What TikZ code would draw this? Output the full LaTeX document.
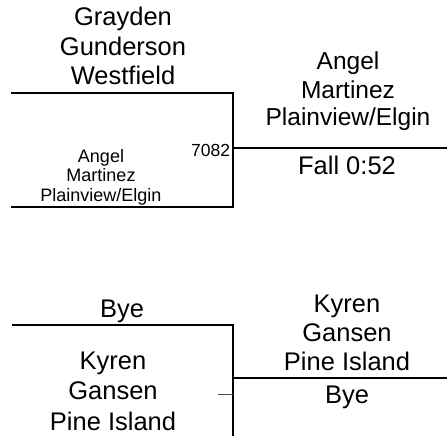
\documentclass[tikz,border=0pt]{standalone}
\usepackage{fontspec}
\setmainfont{Liberation Sans}
\begin{document}
\begin{tikzpicture}[x=1pt,y=-1pt,line width=2pt,
  big/.style={font=\fontsize{25.5}{30}\selectfont,align=center,inner sep=0pt,anchor=base},
  mid/.style={font=\fontsize{24.5}{28}\selectfont,align=center,inner sep=0pt,anchor=base},
  small/.style={font=\fontsize{18}{19.5}\selectfont,align=center,inner sep=0pt,anchor=base},
  seed/.style={font=\fontsize{17.5}{19}\selectfont,inner sep=0pt,anchor=base east},
  bracket/.style={draw=black,line width=2.2pt},
  tick/.style={draw=black!70,line width=1pt}]
\useasboundingbox (0,0) rectangle (448,436);
% top bracket
\coordinate (ta) at (11,93);
\coordinate (tb) at (233,93);
\coordinate (tc) at (233,207);
\coordinate (td) at (11,207);
\coordinate (tm) at (233,148);
\coordinate (te) at (447,148);
\draw[bracket] (ta) -- (tb) -- (tc) -- (td);
\draw[bracket] (tm) -- (te);
% bottom bracket
\coordinate (ba) at (12,325);
\coordinate (bb) at (233,325);
\coordinate (bc) at (233,436);
\coordinate (bm) at (233,378);
\coordinate (be) at (447,378);
\coordinate (bt) at (218,394);
\coordinate (btr) at (233,394);
\draw[bracket] (ba) -- (bb) -- (bc);
\draw[bracket] (bm) -- (be);
\draw[tick] (bt) -- (btr);
% texts (anchor = baseline of last line)
\node[big] (p1) at (123,85) {Grayden\\Gunderson\\Westfield};
\node[small] (p2) at (101,201) {Angel\\Martinez\\Plainview/Elgin};
\node[seed] (s1) at (231,157) {7082};
\node[mid] (w1) at (348,126) {Angel\\Martinez\\Plainview/Elgin};
\node[big] (r1) at (347,175) {Fall 0:52};
\node[big] (p3) at (122,317) {Bye};
\node[big,font=\fontsize{25.5}{30.5}\selectfont] (p4) at (113,430) {Kyren\\Gansen\\Pine Island};
\node[big,font=\fontsize{25.5}{29}\selectfont] (w2) at (347,370) {Kyren\\Gansen\\Pine Island};
\node[big] (r2) at (347,403) {Bye};
\end{tikzpicture}
\end{document}
